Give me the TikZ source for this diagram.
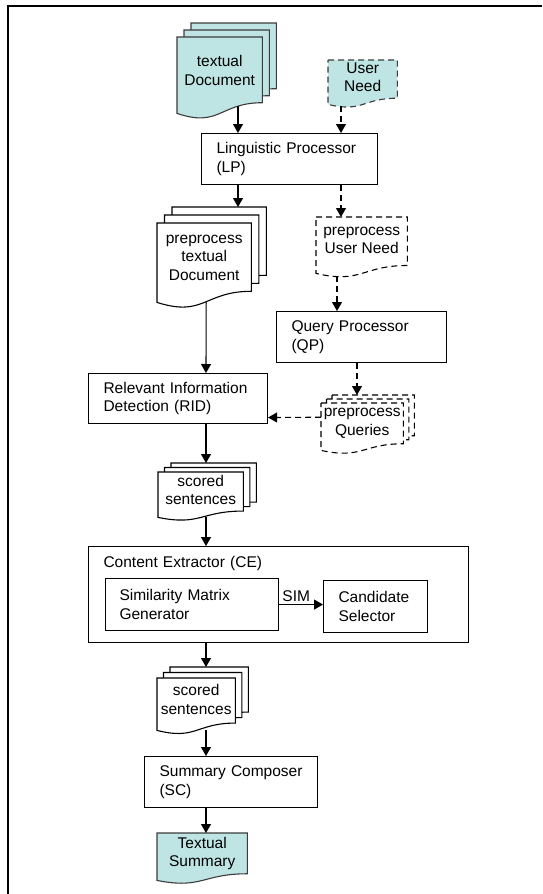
\documentclass[tikz,border=0pt]{standalone}
\usepackage{fontspec}
\setmainfont{Liberation Sans}
\usetikzlibrary{arrows.meta,calc,backgrounds}

\definecolor{docfill}{RGB}{190,228,228}
\definecolor{docline}{RGB}{60,60,60}

% one sheet with a wavy lower edge, drawn round a named node
\newcommand{\docpage}[2][]{%
  \path[#1] (#2.north west) -- (#2.north east)
    -- ($(#2.north east)!0.86!(#2.south east)$)
    .. controls ($(#2.north)!0.86!(#2.south)$) and ($(#2.north)!1.19!(#2.south)$)
    .. (#2.south west) -- cycle;}
% three sheets, the back ones shifted up and right
\newcommand{\docstack}[4][]{%
  \docpage[#1,transform canvas={xshift=2*#3,yshift=2*#4}]{#2}
  \docpage[#1,transform canvas={xshift=#3,yshift=#4}]{#2}
  \docpage[#1]{#2}}

\begin{document}
\begin{tikzpicture}[x=1pt, y=-1pt,
    every node/.style={font=\fontsize{15.5}{18.5}\selectfont},
    box/.style={draw, line width=1.1pt, anchor=north west, inner xsep=15pt, align=left},
    doc/.style={anchor=north west, inner sep=0pt, align=center, text depth=10pt},
    arr/.style={line width=1.1pt, -{Triangle[length=9pt,width=10pt]}},
    dashline/.style={dash pattern=on 6pt off 4pt},
    cyandoc/.style={fill=docfill, draw=docline, line width=1.1pt},
    whitedoc/.style={fill=white, draw=black, line width=1.1pt}]

  \useasboundingbox (0,0) rectangle (542,894);
  \draw[line width=2pt] (7.5,894) -- (7.5,6) -- (542,6);

  \node[doc, minimum width=85pt, minimum height=76pt] (tdoc) at (177,37) {textual\\Document};
  \node[doc, minimum width=69pt, minimum height=44pt] (need) at (328,60) {User\\Need};
  \node[box, text width=146pt, minimum height=51pt] (lp) at (201,133) {Linguistic Processor\\(LP)};
  \node[doc, minimum width=94pt, minimum height=79pt] (ptdoc) at (157,223) {preprocess\\textual\\Document};
  \node[doc, minimum width=91pt, minimum height=56pt] (pneed) at (316,217) {preprocess\\User Need};
  \node[box, text width=140pt, minimum height=51pt] (qp) at (276,311) {Query Processor\\(QP)};
  \node[doc, minimum width=82pt, minimum height=47pt] (pq) at (321,403) {preprocess\\Queries};
  \node[box, text width=149pt, minimum height=50pt] (rid) at (88,373) {Relevant Information\\Detection (RID)};
  \node[doc, minimum width=85pt, minimum height=45pt] (ss1) at (158,472) {scored\\sentences};
  \node[box, text width=350pt, minimum height=96pt, text height=13pt, text depth=67pt,
    inner ysep=8pt] (ce) at (88,546) {Content Extractor (CE)};
  \node[box, inner xsep=14pt, text width=145pt, minimum height=52pt] (smg) at (105,578) {Similarity Matrix\\Generator};
  \node[box, text width=74pt, minimum height=52pt] (cs) at (323,580) {Candidate\\Selector};
  \node[doc, minimum width=78pt, minimum height=52pt] (ss2) at (157,678) {scored\\sentences};
  \node[box, text width=143pt, minimum height=51pt] (sc) at (144,756) {Summary Composer\\(SC)};
  \node[doc, minimum width=90pt, minimum height=47pt] (tsum) at (157,833) {Textual\\Summary};

  \begin{scope}[on background layer]
    \fill[white] (0,0) rectangle (542,894);
    \docstack[cyandoc]{tdoc}{7pt}{7pt}
    \docpage[cyandoc, dashline]{need}
    \docstack[whitedoc]{ptdoc}{7.5pt}{8pt}
    \docpage[whitedoc, dashline]{pneed}
    \docstack[whitedoc, dashline]{pq}{5.5pt}{4pt}
    \docstack[whitedoc]{ss1}{6.5pt}{4.5pt}
    \docstack[whitedoc]{ss2}{6.5pt}{5.5pt}
    \docpage[cyandoc]{tsum}
  \end{scope}

  \draw[arr] ([xshift=61pt,yshift=7pt]tdoc.south west) -- ([xshift=37pt]lp.north west);
  \draw[arr, dashline] ([xshift=13pt,yshift=-2pt]need.south west) -- ([xshift=140pt]lp.north west);
  \draw[arr] ([xshift=37pt]lp.south west) -- ([xshift=81pt,yshift=16pt]ptdoc.north west);
  \draw[arr, dashline] ([xshift=140pt]lp.south west) -- ([xshift=25pt]pneed.north west);
  \draw[arr] ([xshift=2pt]ptdoc.south) -- ([xshift=118pt]rid.north west);
  \draw[arr, dashline] ([xshift=21pt,yshift=-3pt]pneed.south west) -- ([xshift=61pt]qp.north west);
  \draw[arr, dashline] ([xshift=81pt]qp.south west) -- ([xshift=36pt,yshift=8pt]pq.north west);
  \draw[arr, dashline] ([yshift=9.5pt]pq.west) -- ([yshift=-19pt]rid.east);
  \draw[arr] ([xshift=118pt]rid.south west) -- ([xshift=48pt,yshift=9pt]ss1.north west);
  \draw[arr] ([xshift=48pt]ss1.south west) -- ([xshift=118pt]ce.north west);
  \draw[arr] (smg.east) -- node[above, pos=0.39, inner sep=2pt] (sim) {SIM} (smg.east -| cs.west);
  \draw[arr] ([xshift=118pt]ce.south west) -- ([xshift=49pt,yshift=11pt]ss2.north west);
  \draw[arr] ([xshift=49pt]ss2.south west) -- ([xshift=62pt]sc.north west);
  \draw[arr] ([xshift=62pt]sc.south west) -- ([xshift=49pt]tsum.north west);
\end{tikzpicture}
\end{document}
